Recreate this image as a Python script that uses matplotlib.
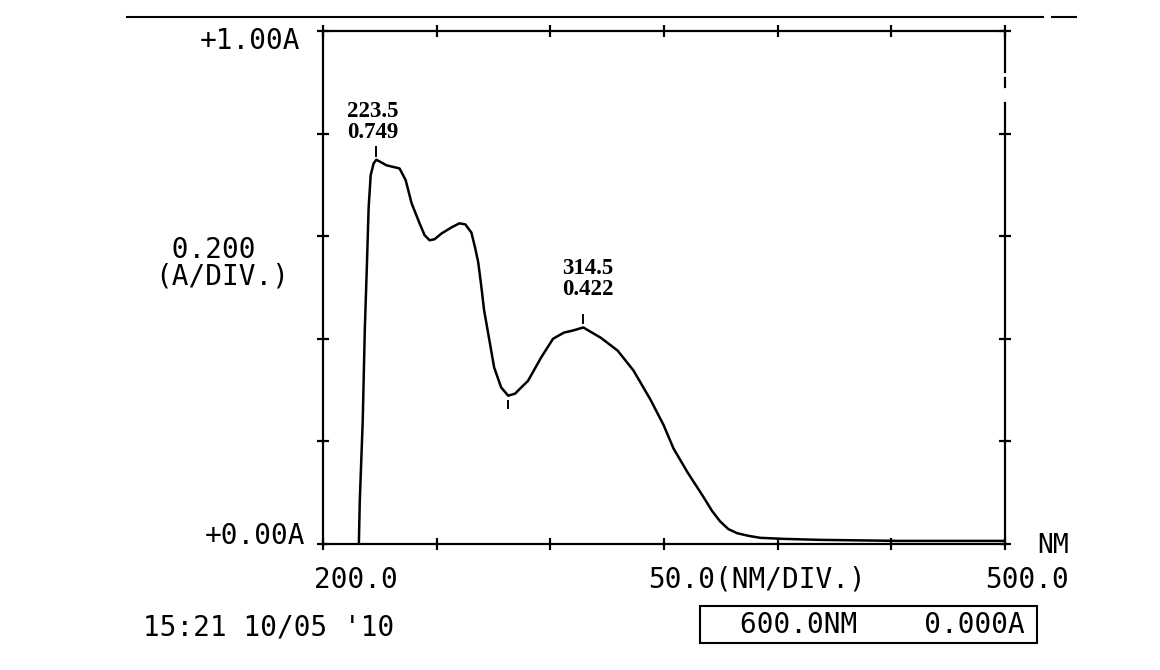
import numpy as np
import matplotlib
matplotlib.use('Agg')
import matplotlib.pyplot as plt
from matplotlib.lines import Line2D
from matplotlib.patches import Rectangle


# SPECTRUM DATA
wavelength_nm = [215.8, 216.2, 217.5, 218.4, 219.3, 220.1, 221.0, 222.3, 223.5,
                 228.0, 233.7, 236.4, 239.0, 242.5, 244.7, 246.9, 249.1, 252.1,
                 256.5, 260.0, 262.6, 265.3, 267.0, 268.3, 269.6, 270.9, 272.7,
                 275.3, 278.4, 281.5, 284.5, 287.2, 290.2, 295.9, 301.2, 306.0,
                 309.9, 314.5, 322.2, 329.6, 336.6, 344.1, 349.8, 354.2, 360.3,
                 367.3, 371.2, 374.7, 378.3, 382.2, 387.0, 392.3, 402.3, 418.5,
                 453.6, 499.6]
absorbance = [0.000, 0.084, 0.240, 0.416, 0.539, 0.656, 0.719, 0.742, 0.749,
              0.738, 0.732, 0.709, 0.664, 0.625, 0.602, 0.592, 0.594, 0.605,
              0.617, 0.625, 0.623, 0.607, 0.576, 0.549, 0.504, 0.455, 0.410,
              0.344, 0.305, 0.289, 0.293, 0.305, 0.318, 0.363, 0.400, 0.412,
              0.416, 0.422, 0.402, 0.377, 0.338, 0.281, 0.232, 0.186, 0.140,
              0.092, 0.064, 0.044, 0.029, 0.021, 0.016, 0.012, 0.010, 0.008,
              0.006, 0.006]

peak_nm = [223.5, 314.5]
peak_abs = [0.749, 0.422]
valley_nm = 281.5
valley_abs = 0.289

X_MIN, X_MAX, X_STEP = 200.0, 500.0, 50.0  # [nm]
Y_MIN, Y_MAX, Y_STEP = 0.0, 1.0, 0.2  # [A]

MONO = 'DejaVu Sans Mono'  # stand-in for the printer font
SERIF = 'Liberation Serif'
FS = 20  # printer text size


fig = plt.figure(figsize=(11.6, 6.7), dpi=100)
fig.patch.set_facecolor('white')
ax = fig.add_axes([0.2784, 0.1881, 0.5880, 0.7657])

# Trace
ax.plot(wavelength_nm, absorbance, color='black', lw=1.8, solid_joinstyle='round')

# Little markers above peaks / below valley
for nm, a in zip(peak_nm, peak_abs):
    ax.plot([nm, nm], [a + 0.008, a + 0.025], color='black', lw=1.4)
ax.plot([valley_nm, valley_nm], [valley_abs - 0.01, valley_abs - 0.024],
        color='black', lw=1.4)

# Peak labels
ax.text(peak_nm[0] - 1.5, peak_abs[0] + 0.032,
        '%.1f\n%.3f' % (peak_nm[0], peak_abs[0]),
        ha='center', va='bottom', family=SERIF, weight='bold', fontsize=16.5,
        linespacing=1.0)
ax.text(peak_nm[1] + 2.0, peak_abs[1] + 0.053,
        '%.1f\n%.3f' % (peak_nm[1], peak_abs[1]),
        ha='center', va='bottom', family=SERIF, weight='bold', fontsize=16.5,
        linespacing=1.0)

# Frame and ticks
ax.set_xlim(X_MIN, X_MAX)
ax.set_ylim(Y_MIN, Y_MAX)
ax.set_xticks(np.arange(X_MIN, X_MAX + 1, X_STEP))
ax.set_yticks(np.arange(Y_MIN, Y_MAX + 0.01, Y_STEP))
ax.tick_params(direction='inout', length=8, width=1.6, top=True, right=True,
               labelbottom=False, labelleft=False)
for side in ['left', 'top', 'bottom']:
    ax.spines[side].set_linewidth(1.6)
ax.spines['right'].set_visible(False)

# right edge of the frame has a broken piece near the top
for y0, y1 in [(0.0, 0.860), (0.891, 0.908), (0.920, 1.0)]:
    ax.add_line(Line2D([1, 1], [y0, y1], transform=ax.transAxes,
                       color='black', lw=1.6, clip_on=False))

# Rule across the top of the page
fig.add_artist(Line2D([0.1095, 0.899], [0.9746, 0.9746], color='black', lw=1.5))
fig.add_artist(Line2D([0.907, 0.928], [0.9746, 0.9746], color='black', lw=1.5))

# Printer annotations
fig.text(0.2586, 0.9388, '+1.00A', ha='right', va='center', family=MONO, fontsize=FS)
fig.text(0.1336, 0.6075, ' 0.200\n(A/DIV.)', ha='left', va='center',
         family=MONO, fontsize=FS, linespacing=0.95)
fig.text(0.2630, 0.2000, '+0.00A', ha='right', va='center', family=MONO, fontsize=FS)
fig.text(0.3069, 0.1343, '200.0', ha='center', va='center', family=MONO, fontsize=FS)
fig.text(0.6526, 0.1358, '50.0(NM/DIV.)', ha='center', va='center',
         family=MONO, fontsize=FS)
fig.text(0.9216, 0.1850, 'NM', ha='right', va='center', family=MONO, fontsize=FS - 1)
fig.text(0.9216, 0.1343, '500.0', ha='right', va='center', family=MONO, fontsize=FS)
fig.text(0.1230, 0.0627, "15:21 10/05 '10", ha='left', va='center',
         family=MONO, fontsize=FS)

# Boxed readout
fig.add_artist(Rectangle((0.6034, 0.0403), 0.2905, 0.0552, transform=fig.transFigure,
                         fill=False, edgecolor='black', lw=1.5))
fig.text(0.7603, 0.0672, '600.0NM    0.000A', ha='center', va='center',
         family=MONO, fontsize=FS)

fig.savefig('out.png', dpi=100)
